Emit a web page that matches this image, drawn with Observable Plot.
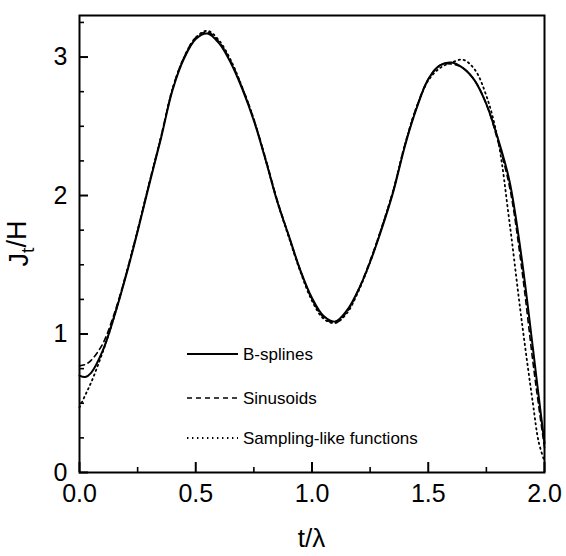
<!DOCTYPE html>
<html>
<head>
<meta charset="utf-8">
<script src="https://cdn.jsdelivr.net/npm/d3@7"></script>
<script src="https://cdn.jsdelivr.net/npm/@observablehq/plot@0.6"></script>
<style>
  html, body { margin: 0; padding: 0; background: #fff; }
  #chart { position: relative; width: 566px; height: 556px; }
</style>
</head>
<body>
<div id="chart"></div>
<script>
// ---- data ----
const tGrid = [0, 0.025, 0.05, 0.1, 0.15, 0.2, 0.25, 0.3, 0.35, 0.4, 0.45, 0.5, 0.55, 0.6, 0.65, 0.7, 0.75, 0.8, 0.85, 0.9, 0.95,
               1.0, 1.05, 1.1, 1.15, 1.2, 1.25, 1.3, 1.35, 1.4, 1.45, 1.5, 1.55, 1.6, 1.65, 1.7, 1.75, 1.8, 1.85, 1.9, 1.95, 1.975, 2.0];
const bSplines = [0.70, 0.69, 0.72, 0.88, 1.13, 1.42, 1.74, 2.08, 2.41, 2.76, 2.99, 3.13, 3.17, 3.10, 2.96, 2.77, 2.54, 2.26, 1.96, 1.71, 1.46,
                  1.26, 1.13, 1.09, 1.17, 1.32, 1.52, 1.76, 2.03, 2.36, 2.63, 2.84, 2.94, 2.96, 2.92, 2.83, 2.66, 2.41, 2.10, 1.57, 0.90, 0.55, 0.21];
const sinusoids = [0.77, 0.78, 0.81, 0.93, 1.15, 1.43, 1.75, 2.09, 2.42, 2.77, 3.00, 3.14, 3.18, 3.11, 2.97, 2.78, 2.55, 2.27, 1.97, 1.71, 1.46,
                   1.25, 1.12, 1.08, 1.16, 1.32, 1.53, 1.77, 2.04, 2.37, 2.64, 2.84, 2.94, 2.95, 2.92, 2.83, 2.66, 2.39, 2.06, 1.50, 0.80, 0.48, 0.18];
const sampling = [0.47, 0.56, 0.65, 0.87, 1.13, 1.43, 1.75, 2.09, 2.42, 2.77, 3.00, 3.14, 3.19, 3.12, 2.98, 2.78, 2.55, 2.26, 1.96, 1.70, 1.45,
                  1.24, 1.11, 1.08, 1.15, 1.31, 1.52, 1.77, 2.04, 2.37, 2.64, 2.83, 2.92, 2.96, 2.98, 2.91, 2.72, 2.40, 1.80, 1.12, 0.50, 0.22, 0.08];
const seriesNames = ["B-splines", "Sinusoids", "Sampling-like functions"];
const seriesValues = [bSplines, sinusoids, sampling];

const xMajor = [0, 0.5, 1, 1.5, 2];
const xTickLabels = ["0.0", "0.5", "1.0", "1.5", "2.0"];
const xMinor = [0.25, 0.75, 1.25, 1.75];
const yMajor = [0, 1, 2, 3];
const yTickLabels = ["0", "1", "2", "3"];
const yMinor = [0.25, 0.5, 0.75, 1.25, 1.5, 1.75, 2.25, 2.5, 2.75, 3.25];
const xTitle = "t/λ";
const yTitleMain = "J", yTitleSub = "t", yTitleRest = "/H";

// ---- build table ----
const rows = [];
seriesNames.forEach((name, i) => {
  tGrid.forEach((t, j) => rows.push({series: name, t, J: seriesValues[i][j]}));
});

const styles = {
  "B-splines": {strokeWidth: 2, dash: null},
  "Sinusoids": {strokeWidth: 1.6, dash: "5,4"},
  "Sampling-like functions": {strokeWidth: 1.8, dash: "1.4,3.6"}
};

const font = "'Liberation Sans', Arial, Helvetica, sans-serif";
const W = 566, H = 556, mL = 79, mR = 22, mT = 15, mB = 84;
const fw = W - mL - mR, fh = H - mT - mB;

const plot = Plot.plot({
  width: W,
  height: H,
  marginLeft: mL,
  marginRight: mR,
  marginTop: mT,
  marginBottom: mB,
  style: {fontFamily: font, background: "white", color: "black"},
  x: {domain: [0, 2]},
  y: {domain: [0, 3.3]},
  marks: [
    ...seriesNames.map(name => Plot.line(rows.filter(r => r.series === name), {
      x: "t", y: "J", stroke: "black",
      strokeWidth: styles[name].strokeWidth,
      strokeDasharray: styles[name].dash,
      curve: "catmull-rom"
    })),
    Plot.axisX({ticks: xMajor, tickSize: 0, tickPadding: 12, fontSize: 25,
                tickFormat: d => xTickLabels[xMajor.indexOf(d)], label: null}),
    Plot.axisY({ticks: yMajor, tickSize: 0, tickPadding: 12, fontSize: 25,
                tickFormat: d => yTickLabels[yMajor.indexOf(d)], label: null}),
    // inward ticks
    Plot.tickX(xMajor, {x: d => d, stroke: "black", strokeWidth: 2, insetTop: fh - 10}),
    Plot.tickX(xMinor, {x: d => d, stroke: "black", strokeWidth: 1.6, insetTop: fh - 5}),
    Plot.tickY(yMajor, {y: d => d, stroke: "black", strokeWidth: 2, insetRight: fw - 9}),
    Plot.tickY(yMinor, {y: d => d, stroke: "black", strokeWidth: 1.6, insetRight: fw - 5}),
    Plot.frame({stroke: "black", strokeWidth: 2})
  ]
});

document.getElementById("chart").appendChild(plot);

// ---- axis titles and legend (real text) ----
const svg = d3.select(plot);

svg.append("text")
  .attr("x", mL + fw / 2)
  .attr("y", 547)
  .attr("text-anchor", "middle")
  .style("font-family", font)
  .style("font-size", "26px")
  .attr("fill", "black")
  .text(xTitle);

const yt = svg.append("text")
  .attr("transform", `translate(28, ${mT + fh / 2}) rotate(-90)`)
  .attr("text-anchor", "middle")
  .style("font-family", font)
  .style("font-size", "27px")
  .attr("fill", "black");
yt.append("tspan").text(yTitleMain);
yt.append("tspan").attr("dy", "0.3em").style("font-size", "19px").text(yTitleSub);
yt.append("tspan").attr("dy", "-0.3em").text(yTitleRest);

const legend = svg.append("g");
const legY = [354, 398, 438];
seriesNames.forEach((name, i) => {
  legend.append("line")
    .attr("x1", 187).attr("x2", 238)
    .attr("y1", legY[i]).attr("y2", legY[i])
    .style("stroke", "#000")
    .style("stroke-width", styles[name].strokeWidth + "px")
    .style("stroke-dasharray", styles[name].dash);
  legend.append("text")
    .attr("x", 243).attr("y", legY[i] + 6)
    .attr("text-anchor", "start")
    .style("font-family", font)
    .style("font-size", "17px")
    .attr("fill", "black")
    .text(name);
});
</script>
</body>
</html>
